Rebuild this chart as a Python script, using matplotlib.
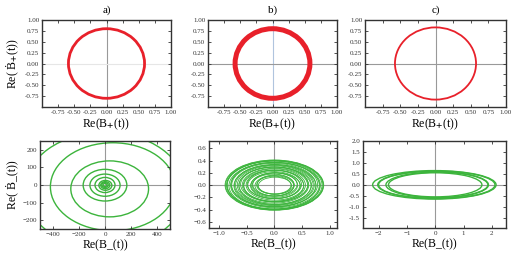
import matplotlib.pyplot as plt
from matplotlib.patches import Ellipse

plt.rcParams['font.family'] = ['Liberation Serif', 'DejaVu Serif']
plt.rcParams['mathtext.fontset'] = 'stix'

panel_names = ['a)', 'b)', 'c)']

# top row: B+ orbit (centre 0, half-axes)
plus_rx = [0.59, 0.58, 0.575]
plus_ry = [0.80, 0.80, 0.83]
plus_lw = [2.0, 3.6, 1.3]

# bottom row, panel a: spiral loops (centre x, centre y, half-axes)
a_cx = [0, 0, 2, 3, 0, 0, 0, 36, 60, 0]
a_cy = [0, 0, -1, -2, 0, -1, -1, -22, -10, -30]
a_rx = [15, 25, 35, 50, 77, 116, 168, 299, 480, 620]
a_ry = [9, 14, 20, 28, 43, 63, 90, 159, 250, 330]

# panel b: dense quasi-periodic band
b_rx = [0.30, 0.31, 0.33, 0.35, 0.38, 0.40, 0.42, 0.45, 0.47, 0.49,
        0.52, 0.54, 0.56, 0.59, 0.61, 0.63, 0.65, 0.67, 0.70, 0.72,
        0.74, 0.76, 0.78, 0.80, 0.82, 0.84, 0.86, 0.87, 0.88, 0.89]
b_ry = [0.14, 0.145, 0.155, 0.165, 0.18, 0.19, 0.20, 0.21, 0.22, 0.23,
        0.245, 0.255, 0.265, 0.275, 0.285, 0.295, 0.305, 0.315, 0.325, 0.335,
        0.345, 0.355, 0.36, 0.37, 0.38, 0.39, 0.395, 0.40, 0.405, 0.41]
b_cx = [0.01, -0.01, 0.02, 0.0, -0.02, 0.01, 0.0, 0.02, -0.01, 0.0,
        0.01, -0.01, 0.0, 0.01, 0.0, -0.01, 0.01, 0.0, 0.0, 0.0,
        0.01, -0.01, 0.0, 0.01, 0.0, -0.01, 0.0, 0.01, 0.0, 0.0]
b_cy = [-0.01, 0.0, 0.01, -0.01, 0.0, 0.01, 0.0, -0.01, 0.0, 0.01,
        0.0, -0.01, 0.0, 0.0, 0.01, 0.0, -0.01, 0.0, 0.0, 0.0,
        -0.01, 0.0, 0.01, 0.0, -0.01, 0.0, 0.0, 0.0, 0.0, 0.0]

# panel c: a few nested loops
c_cx = [0.0, 0.06, -0.06, 0.04, -0.03]
c_rx = [1.65, 1.80, 1.94, 2.07, 2.18]
c_ry = [0.55, 0.58, 0.61, 0.63, 0.65]

green = '#3cb43c'
red = '#e8202a'

fig = plt.figure(figsize=(5.12, 2.58), dpi=100)

W, H = 512, 258
def box(x0, x1, y0, y1):
    return [x0 / W, 1 - y1 / H, (x1 - x0) / W, (y1 - y0) / H]

top_boxes = [box(42, 171, 20, 107), box(208, 337, 20, 107), box(365, 506, 20, 107)]
bot_boxes = [box(40, 170, 141, 229), box(209, 337, 141, 228), box(363, 506, 141, 228)]


def style(ax):
    for s in ax.spines.values():
        s.set_color('#333333')
        s.set_linewidth(1.0)
    ax.tick_params(direction='in', length=2, width=0.6, top=True, right=True,
                   labelsize=5, pad=2, colors='#333333')


# top row
top_axes = []
for i in range(3):
    ax = fig.add_axes(top_boxes[i])
    style(ax)
    vcol = '#b0c4de' if i == 1 else '#999999'
    hcol = '#e6e6e6' if i == 0 else '#999999'
    ax.axvline(0, color=vcol, lw=0.8, zorder=0)
    ax.axhline(0, color=hcol, lw=0.8, zorder=0)
    ax.add_patch(Ellipse((0, 0), 2 * plus_rx[i], 2 * plus_ry[i], fill=False,
                         edgecolor=red, lw=plus_lw[i]))
    ax.set_xlim(-1, 1)
    ax.set_ylim(-1, 1)
    ax.set_xticks([-0.75, -0.5, -0.25, 0, 0.25, 0.5, 0.75, 1.0])
    ax.set_yticks([-0.75, -0.5, -0.25, 0, 0.25, 0.5, 0.75, 1.0])
    ax.set_xticklabels(['-0.75', '-0.50', '-0.25', '0.00', '0.25', '0.50', '0.75', '1.00'])
    ax.set_yticklabels(['-0.75', '-0.50', '-0.25', '0.00', '0.25', '0.50', '0.75', '1.00'])
    ax.set_xlabel(r'Re(B$_{\mathbf{+}}$(t))', fontsize=8.5, labelpad=1)
    ax.set_title(panel_names[i], fontsize=8, pad=5)
    top_axes.append(ax)
top_axes[0].set_ylabel('Re( \u1E02$_{\\mathbf{+}}$(t))', fontsize=8.5, labelpad=3)

# bottom row
bot_axes = []
for i in range(3):
    ax = fig.add_axes(bot_boxes[i])
    style(ax)
    ax.axvline(0, color='#999999', lw=0.8, zorder=0)
    ax.axhline(0, color='#999999', lw=0.8, zorder=0)
    ax.set_xlabel('Re(B_(t))', fontsize=8.5, labelpad=2)
    bot_axes.append(ax)

ax = bot_axes[0]
for cx, cy, rx, ry in zip(a_cx, a_cy, a_rx, a_ry):
    ax.add_patch(Ellipse((cx, cy), 2 * rx, 2 * ry, fill=False, edgecolor=green, lw=1.0))
ax.set_xlim(-500, 500)
ax.set_ylim(-250, 250)
ax.set_xticks([-400, -200, 0, 200, 400])
ax.set_yticks([-200, -100, 0, 100, 200])
ax.set_ylabel('Re( \u1E02_(t))', fontsize=8.5, labelpad=3)

ax = bot_axes[1]
for cx, cy, rx, ry in zip(b_cx, b_cy, b_rx, b_ry):
    ax.add_patch(Ellipse((cx, cy), 2 * rx, 2 * ry, fill=False, edgecolor=green, lw=0.6))
ax.set_xlim(-1.18, 1.13)
ax.set_ylim(-0.70, 0.72)
ax.set_xticks([-1.0, -0.5, 0.0, 0.5, 1.0])
ax.set_yticks([-0.6, -0.4, -0.2, 0.0, 0.2, 0.4, 0.6])

ax = bot_axes[2]
for cx, rx, ry in zip(c_cx, c_rx, c_ry):
    ax.add_patch(Ellipse((cx, 0), 2 * rx, 2 * ry, fill=False, edgecolor=green, lw=1.0))
ax.set_xlim(-2.55, 2.5)
ax.set_ylim(-1.97, 2.0)
ax.set_xticks([-2, -1, 0, 1, 2])
ax.set_yticks([-1.5, -1.0, -0.5, 0.0, 0.5, 1.0, 1.5, 2.0])
ax.set_yticklabels(['-1.5', '-1.0', '-0.5', '0.0', '0.5', '1.0', '1.5', '2.0'])

fig.savefig('out.png', dpi=100)
